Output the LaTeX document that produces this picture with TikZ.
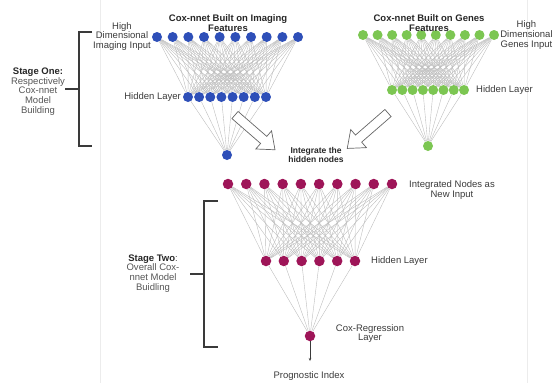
\documentclass[tikz,border=0pt]{standalone}
\usepackage{fontspec}
\setmainfont{Liberation Sans}
\usetikzlibrary{backgrounds,arrows.meta}
\definecolor{nblue}{HTML}{2E4FB8}
\definecolor{ngreen}{HTML}{7CC652}
\definecolor{nmag}{HTML}{9E1558}
\definecolor{txt}{HTML}{3A3A3A}
\definecolor{soft}{HTML}{555555}
\definecolor{edgec}{HTML}{BDBDBD}
\tikzset{
 neuron/.style={circle,inner sep=0pt,minimum size=10pt},
 bluen/.style={neuron,fill=nblue},
 greenn/.style={neuron,fill=ngreen},
 magn/.style={neuron,fill=nmag,minimum size=10.5pt},
 link/.style={draw=edgec,line width=0.4pt},
 lbl/.style={font=\fontsize{9.5}{9.7}\selectfont,text=txt,align=center,inner sep=0pt},
 ttl/.style={font=\fontsize{9.5}{10}\selectfont\bfseries,text=black!85,align=center,inner sep=0pt},
 bracket/.style={draw=txt,line width=1.1pt},
 hollow/.style={draw=gray!80!black,fill=white,line width=0.7pt,line join=miter},
 guide/.style={draw=gray!15,line width=0.6pt}
}
\begin{document}
\begin{tikzpicture}[x=1pt,y=-1pt]
\useasboundingbox (0,0) rectangle (553,383);
% faint guide lines
\draw[guide] (100,0) -- (100,383);
\draw[guide] (527,0) -- (527,383);

% blue network
\foreach \i in {1,...,10} \node[bluen] (b\i) at ({157+(\i-1)*15.67},37) {};
\foreach \i in {1,...,8} \node[bluen] (bh\i) at ({188+(\i-1)*11.14},97) {};
\node[bluen] (bo) at (227,155) {};
% green network
\foreach \i in {1,...,10} \node[greenn] (g\i) at ({363+(\i-1)*14.56},35) {};
\foreach \i in {1,...,8} \node[greenn] (gh\i) at ({392+(\i-1)*10.29},90) {};
\node[greenn] (go) at (428,146) {};
% magenta network
\foreach \i in {1,...,10} \node[magn] (m\i) at ({228+(\i-1)*18.22},184) {};
\foreach \i in {1,...,6} \node[magn] (mh\i) at ({266+(\i-1)*17.8},261) {};
\node[magn] (mo) at (310,336) {};
\coordinate (pi) at (310,361);

\begin{pgfonlayer}{background}
\foreach \i in {1,...,10} \foreach \j in {1,...,8} \draw[link] (b\i) -- (bh\j);
\foreach \j in {1,...,8} \draw[link] (bh\j) -- (bo);
\foreach \i in {1,...,10} \foreach \j in {1,...,8} \draw[link] (g\i) -- (gh\j);
\foreach \j in {1,...,8} \draw[link] (gh\j) -- (go);
\foreach \i in {1,...,10} \foreach \j in {1,...,6} \draw[link] (m\i) -- (mh\j);
\foreach \j in {1,...,6} \draw[link] (mh\j) -- (mo);
\end{pgfonlayer}

\draw[txt,line width=0.6pt,-{Stealth[length=3pt,width=2.5pt]}] (mo) -- (pi);

% titles
\node[ttl] (t1) at (228,23) {Cox-nnet Built on Imaging\\Features};
\node[ttl] (t2) at (429,23) {Cox-nnet Built on Genes\\Features};

% labels
\node[lbl] (l1) at (122,36.5) {High\\Dimensional\\Imaging Input};
\node[lbl,anchor=east] (l2) at (181,97.5) {Hidden Layer};
\node[lbl] (l3) at (526.5,35) {High\\Dimensional\\Genes Input};
\node[lbl,anchor=west] (l4) at (476,90.5) {Hidden Layer};
\node[lbl] (l5) at (452,190) {Integrated Nodes as\\New Input};
\node[lbl,anchor=west] (l6) at (371,261.5) {Hidden Layer};
\node[lbl] (l7) at (370,333.5) {Cox-Regression\\Layer};
\node[lbl] (l8) at (309,376.5) {Prognostic Index};
\node[ttl,font=\fontsize{8.5}{9}\selectfont\bfseries] (l9) at (316,154.5) {Integrate the\\hidden nodes};

% stage one
\node[lbl,text=soft] (s1) at (38,91.5) {{\bfseries\color{black!85}Stage One:}\\Respectively\\Cox-nnet\\Model\\Building};
\draw[bracket] (92,32) -- (79,32) -- (79,146) -- (92,146);
\draw[bracket] (65,89) -- (79,89);
% stage two
\node[lbl,text=soft] (s2) at (153,273.5) {{\bfseries\color{black!85}Stage Two}:\\Overall Cox-\\nnet Model\\Buidling};
\draw[bracket] (218,201) -- (204,201) -- (204,347) -- (218,347);
\draw[bracket] (190,274) -- (204,274);

% hollow arrows
\begin{scope}[shift={(235,115)},rotate=-41]
\draw[hollow] (0,4.7) -- (38,4.7) -- (38,12) -- (53,0) -- (38,-12) -- (38,-4.7) -- (0,-4.7) -- cycle;
\end{scope}
\begin{scope}[shift={(388,113)},rotate=-139]
\draw[hollow] (0,4.7) -- (39,4.7) -- (39,12) -- (54,0) -- (39,-12) -- (39,-4.7) -- (0,-4.7) -- cycle;
\end{scope}
\end{tikzpicture}
\end{document}
